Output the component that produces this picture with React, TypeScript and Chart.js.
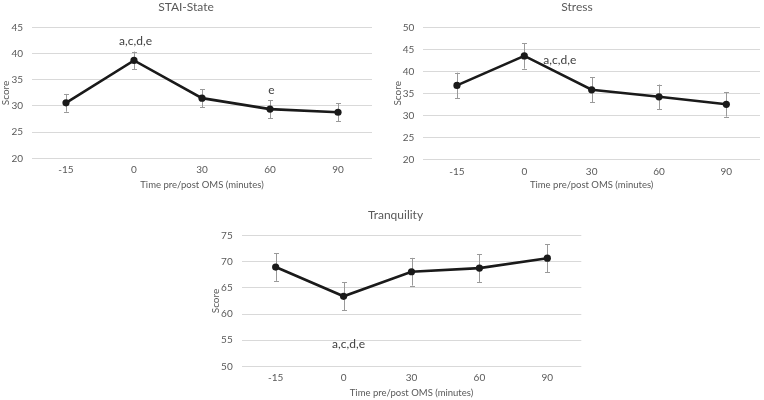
import React, { useEffect, useRef } from 'react';
import { Chart, registerables } from 'chart.js';

Chart.register(...registerables);

// ---- Data ----
const categories = ['-15', '0', '30', '60', '90'];

const staiMean = [30.6, 38.7, 31.5, 29.4, 28.8];
const staiErr = [1.7, 1.7, 1.7, 1.7, 1.75];
const staiNotes = ['', 'a,c,d,e', '', 'e', ''];

const stressMean = [36.8, 43.5, 35.8, 34.2, 32.5];
const stressErr = [2.9, 2.9, 2.8, 2.8, 2.8];
const stressNotes = ['', 'a,c,d,e', '', '', ''];

const tranqMean = [69.0, 63.4, 68.1, 68.8, 70.7];
const tranqErr = [2.65, 2.65, 2.65, 2.65, 2.7];
const tranqNotes = ['', 'a,c,d,e', '', '', ''];

const FONT = 'Lato, "Open Sans", "DejaVu Sans", sans-serif';
const TEXT = '#595959';

const errorBarPlugin = {
  id: 'errorBars',
  beforeDatasetsDraw(chart: any, _args: any, opts: any) {
    const { means, errors } = opts;
    if (!means) return;
    const ctx = chart.ctx;
    const ys = chart.scales.y;
    const pts = chart.getDatasetMeta(0).data;
    ctx.save();
    ctx.strokeStyle = '#9a9a9a';
    ctx.lineWidth = 1;
    pts.forEach((p: any, i: number) => {
      const top = ys.getPixelForValue(means[i] + errors[i]);
      const bot = ys.getPixelForValue(means[i] - errors[i]);
      const x = Math.round(p.x) + 0.5;
      ctx.beginPath();
      ctx.moveTo(x, top);
      ctx.lineTo(x, bot);
      ctx.moveTo(x - 2.5, Math.round(top) + 0.5);
      ctx.lineTo(x + 2.5, Math.round(top) + 0.5);
      ctx.moveTo(x - 2.5, Math.round(bot) + 0.5);
      ctx.lineTo(x + 2.5, Math.round(bot) + 0.5);
      ctx.stroke();
    });
    ctx.restore();
  },
};

const notesPlugin = {
  id: 'sigNotes',
  afterDatasetsDraw(chart: any, _args: any, opts: any) {
    const { notes, placement, means, errors } = opts;
    if (!notes) return;
    const ctx = chart.ctx;
    const ys = chart.scales.y;
    const pts = chart.getDatasetMeta(0).data;
    ctx.save();
    ctx.font = `12px ${FONT}`;
    ctx.fillStyle = '#404040';
    ctx.textBaseline = 'middle';
    notes.forEach((t: string, i: number) => {
      if (!t) return;
      const p = pts[i];
      if (placement === 'above') {
        ctx.textAlign = 'center';
        ctx.fillText(t, p.x + 1.5, ys.getPixelForValue(means[i] + errors[i]) - 10);
      } else if (placement === 'right') {
        ctx.textAlign = 'left';
        ctx.fillText(t, p.x + 19, p.y + 4);
      } else {
        ctx.textAlign = 'center';
        ctx.fillText(t, p.x + 5, ys.getPixelForValue(means[i] - errors[i]) + 34);
      }
    });
    ctx.restore();
  },
};

type PanelProps = {
  left: number;
  top: number;
  width: number;
  height: number;
  title: string;
  mean: number[];
  err: number[];
  notes: string[];
  placement: string;
  yMin: number;
  yMax: number;
  padL: number;
  padR: number;
  xH: number;
  tickPadX: number;
  xTitlePadB: number;
  titlePadT: number;
  titlePadB: number;
};

function Panel(props: PanelProps) {
  const ref = useRef<HTMLCanvasElement>(null);
  useEffect(() => {
    const p = props;
    const chart = new Chart(ref.current as HTMLCanvasElement, {
      type: 'line',
      data: {
        labels: categories,
        datasets: [
          {
            data: p.mean,
            borderColor: '#1a1a1a',
            backgroundColor: '#1a1a1a',
            borderWidth: 2.6,
            pointRadius: 3.6,
            pointBackgroundColor: '#1a1a1a',
            pointBorderWidth: 0,
            tension: 0,
          },
        ],
      },
      options: {
        responsive: false,
        animation: false,
        layout: { padding: { left: p.padL, right: p.padR, top: 0, bottom: 0 } },
        plugins: {
          legend: { display: false },
          tooltip: { enabled: false },
          title: {
            display: true,
            text: p.title,
            color: TEXT,
            font: { family: FONT, size: 12, weight: 'normal', lineHeight: 1.2 },
            padding: { top: p.titlePadT, bottom: p.titlePadB },
          },
          errorBars: { means: p.mean, errors: p.err },
          sigNotes: { notes: p.notes, placement: p.placement, means: p.mean, errors: p.err },
        } as any,
        scales: {
          x: {
            type: 'category',
            offset: true,
            grid: { display: false, drawTicks: false },
            border: { display: false },
            ticks: {
              color: TEXT,
              font: { family: FONT, size: 10 },
              padding: p.tickPadX,
              maxRotation: 0,
            },
            title: {
              display: true,
              text: 'Time pre/post OMS (minutes)',
              color: TEXT,
              font: { family: FONT, size: 9.5 },
              padding: { top: 0, bottom: p.xTitlePadB },
            },
            afterFit: (s: any) => {
              s.height = p.xH;
            },
          },
          y: {
            min: p.yMin,
            max: p.yMax,
            grid: { color: '#d9d9d9', drawTicks: false, lineWidth: 1 },
            border: { display: false },
            ticks: {
              stepSize: 5,
              color: TEXT,
              font: { family: FONT, size: 10 },
              padding: 9,
            },
            title: {
              display: true,
              text: 'Score',
              color: TEXT,
              font: { family: FONT, size: 10 },
              padding: { top: 0, bottom: 0 },
            },
            afterFit: (s: any) => {
              s.width = 32;
            },
          },
        },
      },
      plugins: [errorBarPlugin, notesPlugin],
    });
    return () => chart.destroy();
  }, []);
  return (
    <div style={{ position: 'absolute', left: props.left, top: props.top, width: props.width, height: props.height }}>
      <canvas ref={ref} width={props.width} height={props.height} style={{ display: 'block', width: props.width, height: props.height }} />
    </div>
  );
}

export default function App() {
  return (
    <div style={{ position: 'fixed', left: 0, top: 0, width: 764, height: 400, background: '#ffffff', overflow: 'hidden' }}>
      <Panel
        left={0}
        top={0}
        width={382}
        height={200}
        title="STAI-State"
        mean={staiMean}
        err={staiErr}
        notes={staiNotes}
        placement="above"
        yMin={20}
        yMax={45}
        padL={0}
        padR={10}
        xH={41.7}
        tickPadX={5.7}
        xTitlePadB={9}
        titlePadT={0.3}
        titlePadB={12.8}
      />
      <Panel
        left={382}
        top={0}
        width={382}
        height={200}
        title="Stress"
        mean={stressMean}
        err={stressErr}
        notes={stressNotes}
        placement="right"
        yMin={20}
        yMax={50}
        padL={9.3}
        padR={1.3}
        xH={40.7}
        tickPadX={6.4}
        xTitlePadB={9.3}
        titlePadT={0}
        titlePadB={12.9}
      />
      <Panel
        left={190}
        top={200}
        width={400}
        height={200}
        title="Tranquility"
        mean={tranqMean}
        err={tranqErr}
        notes={tranqNotes}
        placement="below"
        yMin={50}
        yMax={75}
        padL={19.7}
        padR={8.7}
        xH={33.7}
        tickPadX={5.4}
        xTitlePadB={1.6}
        titlePadT={7.8}
        titlePadB={13.5}
      />
    </div>
  );
}
